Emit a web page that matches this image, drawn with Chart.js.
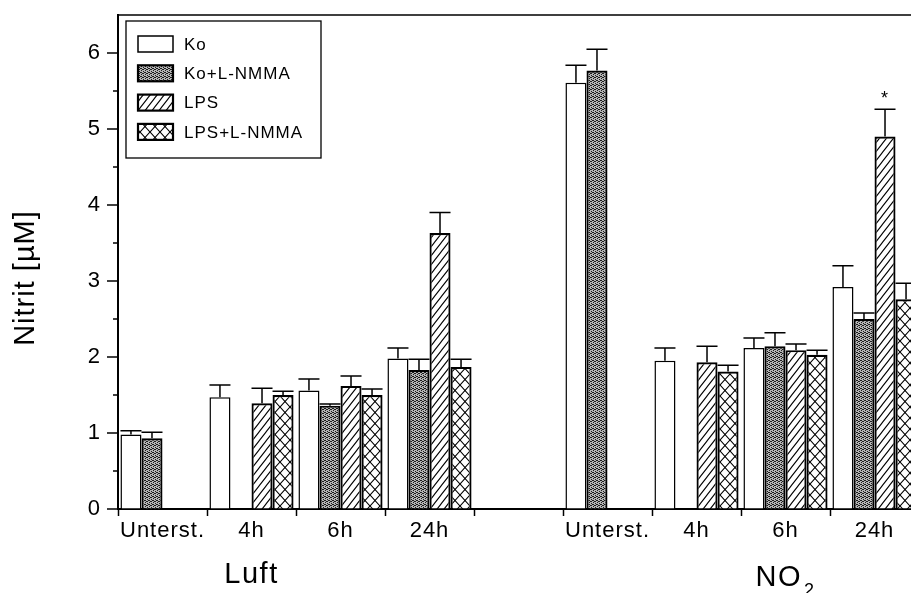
<!DOCTYPE html>
<html>
<head>
<meta charset="utf-8">
<script src="https://cdn.jsdelivr.net/npm/chart.js@4/dist/chart.umd.min.js"></script>
<style>
  html, body { margin: 0; padding: 0; background: #fff; overflow: hidden; }
  #wrap { width: 940px; height: 593px; }
</style>
</head>
<body>
<div id="wrap"><canvas id="c" width="940" height="593"></canvas></div>
<script>
// Nitrite release per exposure (Luft / NO2) and incubation time
const categories = ['Unterst.', '4h', '6h', '24h', '', 'Unterst.', '4h', '6h', '24h'];
const exposureLabels = ['Luft', 'NO', '2'];   // "NO" + subscript "2"
const seriesNames = ['Ko', 'Ko+L-NMMA', 'LPS', 'LPS+L-NMMA'];

const koValues      = [0.98, 1.47, 1.56, 1.98, null, 5.61, 1.95, 2.12, 2.92];
const koErrors      = [0.05, 0.16, 0.15, 0.14, null, 0.23, 0.17, 0.13, 0.28];
const koNmmaValues  = [0.93, null, 1.36, 1.83, null, 5.77, null, 2.14, 2.50];
const koNmmaErrors  = [0.08, null, 0.02, 0.14, null, 0.28, null, 0.18, 0.08];
const lpsValues     = [null, 1.39, 1.62, 3.63, null, null, 1.93, 2.09, 4.90];
const lpsErrors     = [null, 0.20, 0.13, 0.27, null, null, 0.21, 0.08, 0.36];
const lpsNmmaValues = [null, 1.50, 1.50, 1.87, null, null, 1.81, 2.03, 2.76];
const lpsNmmaErrors = [null, 0.05, 0.08, 0.10, null, null, 0.08, 0.06, 0.21];
const lpsMarks      = ['', '', '', '', '', '', '', '', '*'];

const yMajorTicks = [0, 1, 2, 3, 4, 5, 6];
const yMinorTicks = [0.5, 1.5, 2.5, 3.5, 4.5, 5.5];
const yTitle = 'Nitrit [\u00B5M]';

const FONT = '"Liberation Sans", Arial, Helvetica, sans-serif';
const canvas = document.getElementById('c');
const ctx0 = canvas.getContext('2d');

// ---- fill patterns ----
function makePattern(w, h, draw) {
  const c = document.createElement('canvas');
  c.width = w; c.height = h;
  const g = c.getContext('2d');
  g.fillStyle = '#fff';
  g.fillRect(0, 0, w, h);
  draw(g, w, h);
  return ctx0.createPattern(c, 'repeat');
}
function diag(g, w, h, dir) {
  // one tiling family of diagonal lines, including the corner pieces
  g.beginPath();
  for (let k = -1; k <= 1; k++) {
    if (dir > 0) { g.moveTo(-w, 2 * h + k * h); g.lineTo(2 * w, -h + k * h); }
    else { g.moveTo(-w, -h + k * h); g.lineTo(2 * w, 2 * h + k * h); }
  }
  g.stroke();
}
const stipple = makePattern(4, 4, (g) => {
  g.fillStyle = '#b4b4b4';
  g.fillRect(0, 0, 4, 4);
  g.fillStyle = '#1c1c1c';
  [[0, 0], [2, 1], [1, 2], [3, 3], [3, 1], [1, 0]].forEach(([x, y]) => g.fillRect(x, y, 1, 1));
});
const hatch = makePattern(7, 9, (g, w, h) => {
  g.strokeStyle = '#000'; g.lineWidth = 1.1;
  diag(g, w, h, 1);
});
const crossHatch = makePattern(10, 11, (g, w, h) => {
  g.strokeStyle = '#000'; g.lineWidth = 1.1;
  diag(g, w, h, 1);
  diag(g, w, h, -1);
});

const errorSets = [koErrors, koNmmaErrors, lpsErrors, lpsNmmaErrors];
const markSets = [null, null, lpsMarks, null];

// ---- custom drawing: error bars, frame, ticks, legend, titles ----
const decorations = {
  id: 'decorations',
  beforeDraw(chart) {
    chart.ctx.letterSpacing = '1px';
  },
  afterDatasetsDraw(chart) {
    const ctx = chart.ctx;
    const y = chart.scales.y;
    ctx.save();
    ctx.strokeStyle = '#000';
    ctx.lineWidth = 1.5;
    chart.data.datasets.forEach((ds, i) => {
      const meta = chart.getDatasetMeta(i);
      ds.data.forEach((v, j) => {
        if (v == null) return;
        const bar = meta.data[j];
        const err = errorSets[i][j];
        const top = y.getPixelForValue(v + err);
        const half = bar.width / 2;
        ctx.beginPath();
        ctx.moveTo(bar.x, bar.y);
        ctx.lineTo(bar.x, top);
        ctx.moveTo(bar.x - half, top);
        ctx.lineTo(bar.x + half, top);
        ctx.stroke();
        const marks = markSets[i];
        if (marks && marks[j]) {
          ctx.fillStyle = '#000';
          ctx.font = '18px ' + FONT;
          ctx.textAlign = 'center';
          ctx.textBaseline = 'alphabetic';
          ctx.fillText(marks[j], bar.x, top - 5);
        }
      });
    });
    ctx.restore();
  },
  afterDraw(chart) {
    const ctx = chart.ctx;
    const a = chart.chartArea;
    const y = chart.scales.y;
    const x = chart.scales.x;
    ctx.save();
    ctx.strokeStyle = '#000';

    // frame: top and right edges
    ctx.lineWidth = 1.5;
    ctx.beginPath();
    ctx.moveTo(a.left, a.top);
    ctx.lineTo(a.right, a.top);
    ctx.lineTo(a.right, a.bottom);
    ctx.stroke();

    // y tick marks, major and minor
    ctx.lineWidth = 1.5;
    yMajorTicks.forEach(v => {
      const py = y.getPixelForValue(v);
      ctx.beginPath(); ctx.moveTo(a.left - 11, py); ctx.lineTo(a.left, py); ctx.stroke();
    });
    yMinorTicks.forEach(v => {
      const py = y.getPixelForValue(v);
      ctx.beginPath(); ctx.moveTo(a.left - 5, py); ctx.lineTo(a.left, py); ctx.stroke();
    });

    // legend
    const lx = a.left + 8, ly = a.top + 6, lw = 195, lh = 137;
    ctx.fillStyle = '#fff';
    ctx.fillRect(lx, ly, lw, lh);
    ctx.lineWidth = 1.3;
    ctx.strokeRect(lx, ly, lw, lh);
    ctx.font = '17px ' + FONT;
    ctx.letterSpacing = '1px';
    ctx.textAlign = 'left';
    ctx.textBaseline = 'middle';
    chart.data.datasets.forEach((ds, i) => {
      const cy = ly + 23 + i * 29.3;
      ctx.fillStyle = ds.backgroundColor;
      ctx.fillRect(lx + 12, cy - 8, 35, 16);
      ctx.lineWidth = ds.borderWidth;
      ctx.strokeRect(lx + 12, cy - 8, 35, 16);
      ctx.fillStyle = '#000';
      ctx.fillText(ds.label, lx + 58, cy + 1);
    });

    // y axis title
    ctx.save();
    ctx.translate(26, 278);
    ctx.rotate(-Math.PI / 2);
    ctx.font = '29px ' + FONT;
    ctx.letterSpacing = '1px';
    ctx.textAlign = 'center';
    ctx.textBaseline = 'middle';
    ctx.fillStyle = '#000';
    ctx.fillText(yTitle, 0, 0);
    ctx.restore();

    // exposure labels below the category labels
    ctx.fillStyle = '#000';
    ctx.letterSpacing = '1.5px';
    ctx.textBaseline = 'alphabetic';
    ctx.font = '29px ' + FONT;
    ctx.textAlign = 'center';
    ctx.fillText(exposureLabels[0], x.getPixelForValue(1), 583);
    const cx = x.getPixelForValue(7);
    const wMain = ctx.measureText(exposureLabels[1]).width;
    ctx.font = '18px ' + FONT;
    const wSub = ctx.measureText(exposureLabels[2]).width;
    const start = cx - (wMain + wSub + 2) / 2;
    ctx.textAlign = 'left';
    ctx.font = '29px ' + FONT;
    ctx.fillText(exposureLabels[1], start, 586);
    ctx.font = '18px ' + FONT;
    ctx.fillText(exposureLabels[2], start + wMain + 2, 596);
    ctx.restore();
  }
};

const datasets = [
  { label: seriesNames[0], data: koValues,      backgroundColor: '#fff',     borderColor: '#000', borderWidth: 1.5 },
  { label: seriesNames[1], data: koNmmaValues,  backgroundColor: stipple,    borderColor: '#000', borderWidth: 2.2 },
  { label: seriesNames[2], data: lpsValues,     backgroundColor: hatch,      borderColor: '#000', borderWidth: 2.2 },
  { label: seriesNames[3], data: lpsNmmaValues, backgroundColor: crossHatch, borderColor: '#000', borderWidth: 2.2 }
];

new Chart(canvas, {
  type: 'bar',
  data: { labels: categories, datasets },
  options: {
    responsive: false,
    devicePixelRatio: 1,
    animation: false,
    layout: { padding: { top: 15, right: 21, left: 0, bottom: 0 } },
    datasets: { bar: { categoryPercentage: 0.945, barPercentage: 1.0 } },
    plugins: { legend: { display: false }, tooltip: { enabled: false } },
    scales: {
      x: {
        grid: { offset: true, drawOnChartArea: false, tickLength: 7, tickWidth: 1.5, tickColor: '#000' },
        border: { color: '#000', width: 2 },
        ticks: { color: '#000', font: { family: FONT, size: 22 }, padding: 2, autoSkip: false, maxRotation: 0 },
        afterFit: s => { s.height = 84; s.paddingLeft = 0; s.paddingRight = 0; }
      },
      y: {
        min: 0, max: 6.5,
        grid: { drawOnChartArea: false, drawTicks: false },
        border: { color: '#000', width: 2 },
        ticks: { color: '#000', font: { family: FONT, size: 22 }, padding: 17 },
        afterBuildTicks: s => { s.ticks = yMajorTicks.map(v => ({ value: v })); },
        afterFit: s => { s.width = 118; s.paddingTop = 0; s.paddingBottom = 0; }
      }
    }
  },
  plugins: [decorations]
});
</script>
</body>
</html>
